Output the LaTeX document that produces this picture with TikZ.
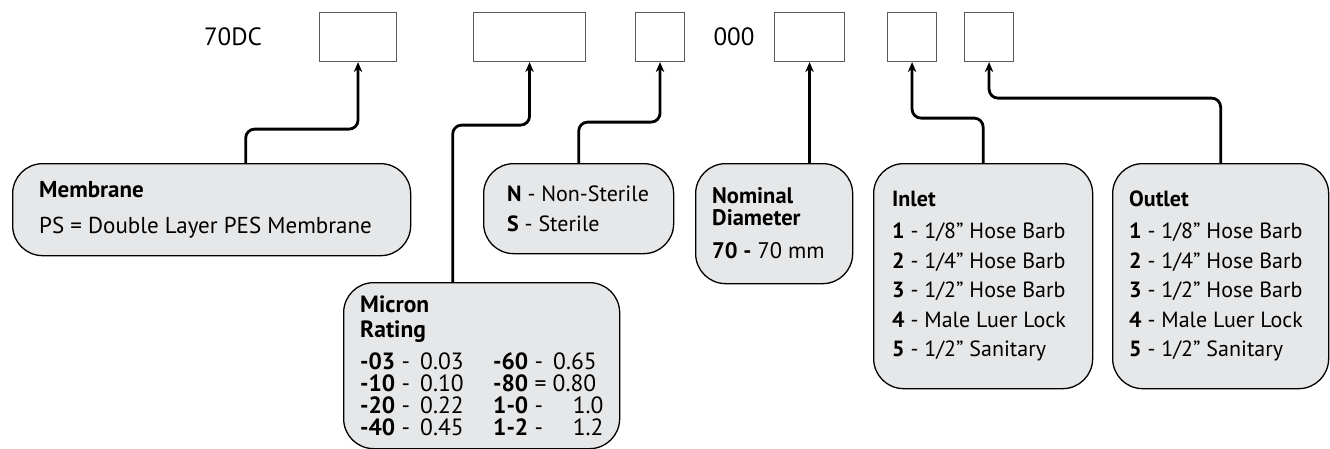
\documentclass[tikz,border=0pt]{standalone}
\usepackage{fontspec}
\setmainfont{PT Sans}
\usepackage{tikz}
\usetikzlibrary{arrows.meta}
\definecolor{panelgray}{HTML}{E6E7E8}
\definecolor{slotgray}{HTML}{5A5A5A}
\tikzset{>=stealth}
\tikzset{%
    slot/.style={draw=slotgray, line width=1.1pt, minimum height=49pt, inner sep=0pt, anchor=north west},
    panel/.style={draw, fill=panelgray, line width=1.3pt, rounded corners=30pt, inner sep=0pt, anchor=north west},
    paneltext/.style={align=left, inner sep=0pt, anchor=west},
    link/.style={line width=2.8pt, -{Stealth[length=10pt,width=8.5pt]}, rounded corners=9pt}
}

\begin{document}
\begin{tikzpicture}[x=1pt,y=-1pt]
\useasboundingbox (0,0) rectangle (1330,448);
% code line
\node[font=\fontsize{25}{25}\selectfont] (code) at (233,37) {70DC};
\node[slot, minimum width=77pt] (b1) at (319,12) {};
\node[slot, minimum width=112pt] (b2) at (473,12) {};
\node[slot, minimum width=49pt] (b3) at (635,12) {};
\node[font=\fontsize{25}{25}\selectfont] (zeros) at (734,37) {000};
\node[slot, minimum width=70pt] (b4) at (774,12) {};
\node[slot, minimum width=49pt] (b5) at (887,12) {};
\node[slot, minimum width=49pt] (b6) at (964,12) {};
% panels
\node[panel, minimum width=398pt, minimum height=92pt] (memb) at (12,163) {};
\node[panel, minimum width=276pt, minimum height=166pt] (micron) at (343,282) {};
\node[panel, minimum width=190pt, minimum height=90pt] (ns) at (483,163) {};
\node[panel, minimum width=157pt, minimum height=120pt] (nom) at (695,163) {};
\node[panel, minimum width=219pt, minimum height=225pt] (inlet) at (873,163) {};
\node[panel, minimum width=216pt, minimum height=225pt] (outlet) at (1112,163) {};
\node[paneltext, font=\fontsize{23}{36}\selectfont] (membtxt) at ([xshift=27pt]memb.west)
    {\textbf{Membrane}\\PS = Double Layer PES Membrane};
\node[paneltext, font=\fontsize{23.5}{22}\selectfont] (microntxt) at ([xshift=17pt]micron.west)
    {\textbf{Micron}\\[3pt]\textbf{Rating}\\[10pt]
     \makebox[133pt][l]{\textbf{-03} - \,0.03}\textbf{-60} - \,0.65\\
     \makebox[133pt][l]{\textbf{-10} - \,0.10}\textbf{-80} = 0.80\\
     \makebox[133pt][l]{\textbf{-20} - \,0.22}\textbf{1-0} - \quad1.0\\
     \makebox[133pt][l]{\textbf{-40} - \,0.45}\textbf{1-2} - \quad1.2};
\node[paneltext, font=\fontsize{22}{30}\selectfont] (nstxt) at ([xshift=24pt]ns.west)
    {\textbf{N} - Non-Sterile\\\textbf{S} - Sterile};
\node[paneltext, font=\fontsize{22.5}{22}\selectfont] (nomtxt) at ([xshift=17pt]nom.west)
    {\textbf{Nominal}\\\textbf{Diameter}\\[11pt]\textbf{70 -} 70 mm};
\node[paneltext, font=\fontsize{22}{29.5}\selectfont] (inlettxt) at ([xshift=19pt]inlet.west)
    {\textbf{Inlet}\\[2.5pt]
     \textbf{1} - 1/8” Hose Barb\\
     \textbf{2} - 1/4” Hose Barb\\
     \textbf{3} - 1/2” Hose Barb\\
     \textbf{4} - Male Luer Lock\\
     \textbf{5} - 1/2” Sanitary};
\node[paneltext, font=\fontsize{22}{29.5}\selectfont] (outlettxt) at ([xshift=17pt]outlet.west)
    {\textbf{Outlet}\\[2.5pt]
     \textbf{1} - 1/8” Hose Barb\\
     \textbf{2} - 1/4” Hose Barb\\
     \textbf{3} - 1/2” Hose Barb\\
     \textbf{4} - Male Luer Lock\\
     \textbf{5} - 1/2” Sanitary};
% connectors
\draw[link] ([xshift=34pt]memb.north) |- ([yshift=-67pt]b1.south) -- (b1.south);
\draw[link] ([xshift=-29pt]micron.north) |- ([yshift=-63pt]b2.south) -- (b2.south);
\draw[link] (ns.north) |- ([yshift=-60pt]b3.south) -- (b3.south);
\draw[link] (b4.south |- nom.north) -- (b4.south);
\draw[link] (inlet.north) |- ([yshift=-56pt]b5.south) -- (b5.south);
\draw[link] (outlet.north) |- ([yshift=-36pt]b6.south) -- (b6.south);
\end{tikzpicture}
\end{document}
